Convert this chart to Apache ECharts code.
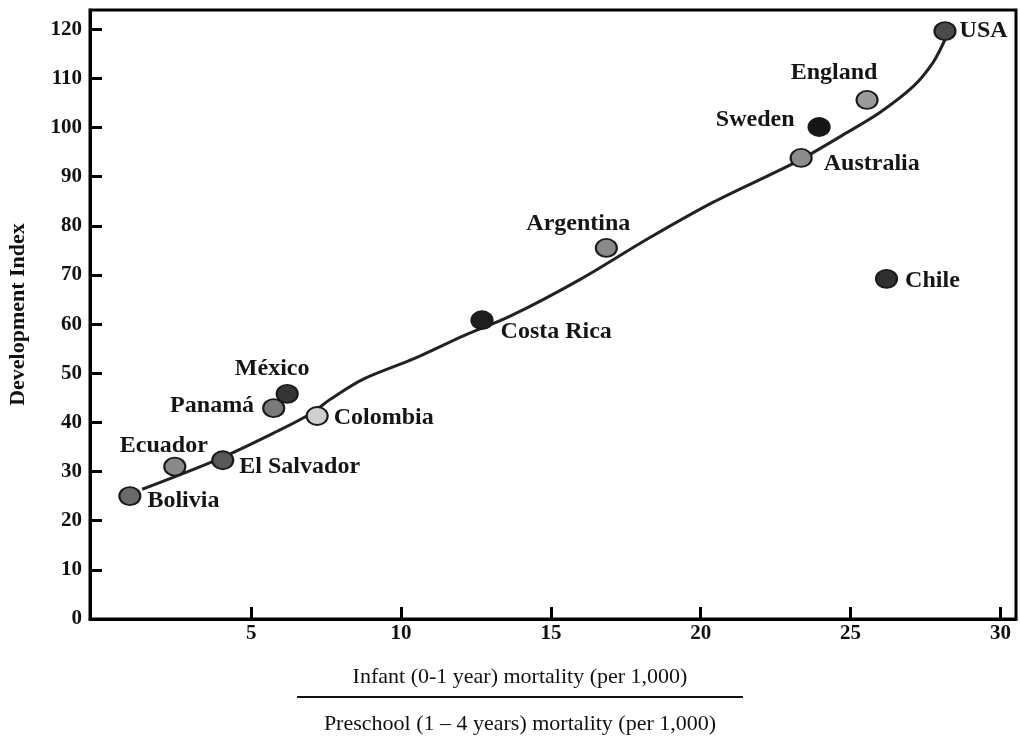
<!DOCTYPE html>
<html>
<head>
<meta charset="utf-8">
<script src="https://cdn.jsdelivr.net/npm/echarts@6/dist/echarts.min.js"></script>
<style>html,body{margin:0;padding:0;background:#fff}#c{width:1020px;height:739px}</style>
</head>
<body>
<div id="c"></div>
<script>
// ---- data ----
const countries = ['Bolivia','Ecuador','El Salvador','Panamá','México','Colombia','Costa Rica','Argentina','Australia','Sweden','England','USA','Chile'];
const mortalityRatio = [0.95, 2.45, 4.05, 5.75, 6.2, 7.2, 12.7, 16.85, 23.35, 23.95, 25.55, 28.15, 26.2];
const developmentIndex = [25, 31, 32.3, 42.9, 45.8, 41.3, 60.8, 75.5, 93.8, 100.1, 105.6, 119.6, 69.2];
const trendX = [1.36, 3.97, 5.87, 6.97, 7.64, 8.74, 10.41, 12.08, 13.64, 15.98, 18.22, 20.42, 23.22, 24.89, 25.99, 27.1, 27.76, 28.16];
const trendY = [26.4, 32.7, 38.2, 41.7, 44.7, 48.8, 52.9, 57.6, 61.6, 69.1, 77.3, 84.8, 93.1, 99.0, 103.1, 108.4, 113.3, 118.0];
const xTicks = [5, 10, 15, 20, 25, 30];
const yTicks = [0, 10, 20, 30, 40, 50, 60, 70, 80, 90, 100, 110, 120];
const xTitleTop = 'Infant (0-1 year) mortality (per 1,000)';
const xTitleBottom = 'Preschool (1 – 4 years) mortality (per 1,000)';
const yTitle = 'Development Index';

// ---- style ----
const fills = ['#6a6a6a','#8a8a8a','#585858','#7a7a7a','#353535','#cfcfcf','#1e1e1e','#8a8a8a','#8c8c8c','#161616','#9a9a9a','#4a4a4a','#303030'];
const labelPos = [
  {position:'right', offset:[3,5]},
  {position:'top', offset:[-11,4]},
  {position:'right', offset:[2,7]},
  {position:'left', offset:[-5,-2]},
  {position:'top', offset:[-15,0]},
  {position:'right', offset:[2,2]},
  {position:'right', offset:[4,12]},
  {position:'top', offset:[-28,1]},
  {position:'right', offset:[8,6]},
  {position:'left', offset:[-10,-7]},
  {position:'top', offset:[-33,-2]},
  {position:'right', offset:[0,0]},
  {position:'right', offset:[4,2]}
];
const serif = '"Liberation Serif","DejaVu Serif",serif';

const pts = countries.map((n, i) => ({
  name: n,
  value: [mortalityRatio[i], developmentIndex[i]],
  itemStyle: {color: fills[i]},
  label: Object.assign({show: true, formatter: n}, labelPos[i])
}));

const chart = echarts.init(document.getElementById('c'), null, {renderer: 'canvas'});
chart.setOption({
  animation: false,
  backgroundColor: '#fff',
  grid: {left: 90, right: 4, top: 10, bottom: 120, show: true, borderColor: '#000', borderWidth: 3, containLabel: false, outerBoundsMode: 'none'},
  xAxis: {
    type: 'value', min: -0.38, max: 30.52,
    splitLine: {show: false},
    axisLine: {show: true, onZero: false, lineStyle: {color: '#000', width: 3}},
    axisTick: {show: true, inside: true, length: 12, customValues: xTicks, lineStyle: {color: '#000', width: 3}},
    axisLabel: {customValues: xTicks, color: '#111', fontFamily: serif, fontWeight: 'bold', fontSize: 21, margin: 4}
  },
  yAxis: {
    type: 'value', min: 0, max: 123.9,
    name: yTitle, nameLocation: 'middle', nameGap: 61, nameRotate: 90,
    nameTextStyle: {color: '#111', fontFamily: serif, fontWeight: 'bold', fontSize: 22},
    splitLine: {show: false},
    axisLine: {show: true, onZero: false, lineStyle: {color: '#000', width: 3}},
    axisTick: {show: true, inside: true, length: 12, customValues: yTicks, lineStyle: {color: '#000', width: 3}},
    axisLabel: {customValues: yTicks, color: '#111', fontFamily: serif, fontWeight: 'bold', fontSize: 21, margin: 8}
  },
  series: [
    {
      type: 'line', smooth: 0.3, symbol: 'none',
      data: trendX.map((x, i) => [x, trendY[i]]),
      lineStyle: {color: '#222', width: 3},
      z: 2
    },
    {
      type: 'scatter',
      symbol: 'circle', symbolSize: [21, 18],
      data: pts,
      itemStyle: {borderColor: '#1a1a1a', borderWidth: 2, opacity: 1},
      label: {color: '#151515', fontFamily: serif, fontWeight: 'bold', fontSize: 24, distance: 3},
      z: 3
    }
  ],
  graphic: [
    {type: 'text', x: 520, y: 677, style: {text: xTitleTop, font: '22px "Liberation Serif"', fill: '#111', align: 'center', verticalAlign: 'middle'}},
    {type: 'line', shape: {x1: 297, y1: 697, x2: 743, y2: 697}, style: {stroke: '#111', lineWidth: 2}},
    {type: 'text', x: 520, y: 724, style: {text: xTitleBottom, font: '22px "Liberation Serif"', fill: '#111', align: 'center', verticalAlign: 'middle'}}
  ]
});
</script>
</body>
</html>
